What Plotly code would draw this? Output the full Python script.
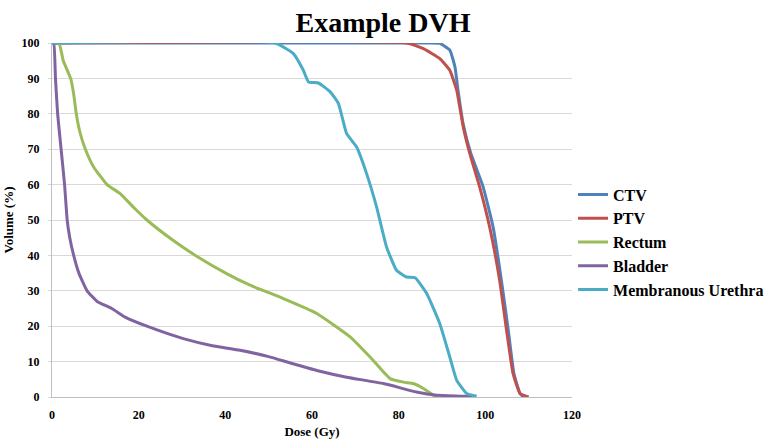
import plotly.graph_objects as go

# ---- data ----
ctv_dose = [0, 85.7, 89.5, 91.8, 93.0, 93.7, 94.9, 96.6, 99.5, 101.8, 103.7, 105.3, 106.6, 108.0, 108.8]
ctv_vol = [100, 100, 99.9, 98, 93.2, 86.6, 77, 69, 59.3, 48, 33, 18.8, 6.6, 1, 0]

ptv_dose = [0, 81.8, 85.7, 89.5, 91.8, 93.4, 94.9, 96.4, 98.7, 101.0, 103.3, 104.9, 106.4, 108.0, 109.5, 110.0]
ptv_vol = [100, 100, 98.4, 95.6, 92.3, 86.6, 76.3, 68.8, 59.3, 48, 33, 18.8, 6.6, 1, 0.2, 0]

rectum_dose = [0, 1.6, 2.6, 4.3, 5.0, 5.6, 6.4, 7.7, 9.6, 12.7, 15.8, 18.8, 21.9, 28.0, 33.1, 40.4,
               45.7, 53.4, 61.1, 68.8, 73.4, 78.0, 81.1, 83.4, 85.7, 88.0, 89.0]
rectum_vol = [100, 100, 95, 90, 85.6, 80, 75, 70, 65, 60, 57.4, 53.6, 50, 44.2, 40, 34.8,
              31.6, 27.8, 23.6, 17, 11.3, 5.2, 4.2, 3.8, 2.4, 0.5, 0]

bladder_dose = [0, 0.4, 0.8, 1.3, 2.1, 2.9, 3.5, 4.1, 5.0, 6.2, 8.1, 10.4, 13.8, 17.0, 21.9, 30.3,
                37.0, 43.4, 50.0, 55.0, 61.1, 68.0, 76.5, 84.1, 88.8, 95.7, 97.0]
bladder_vol = [100, 100, 90, 80, 70, 60, 50, 45, 40, 35, 30, 27, 25, 22.5, 20, 16.5,
               14.5, 13.2, 11.4, 9.6, 7.5, 5.6, 3.8, 1.4, 0.5, 0.2, 0]

urethra_dose = [0, 51.5, 55.7, 58.0, 59.2, 61.5, 64.2, 66.1, 68.0, 70.3, 72.6, 74.9, 77.2, 79.5,
                81.8, 83.8, 86.5, 89.5, 91.8, 93.4, 95.7, 98.0]
urethra_vol = [100, 100, 97, 92.3, 89, 88.7, 86.2, 82.9, 74.4, 70.6, 63.1, 53.7, 42.4, 35.8,
               33.9, 33.7, 29.2, 20.7, 11.3, 4.7, 1, 0.2]

series_names = ["CTV", "PTV", "Rectum", "Bladder", "Membranous Urethra"]
series_x = [ctv_dose, ptv_dose, rectum_dose, bladder_dose, urethra_dose]
series_y = [ctv_vol, ptv_vol, rectum_vol, bladder_vol, urethra_vol]
colors = ["#4F81BD", "#C0504D", "#9BBB59", "#8064A2", "#4BACC6"]

x_ticks = [0, 20, 40, 60, 80, 100, 120]
y_ticks = [0, 10, 20, 30, 40, 50, 60, 70, 80, 90, 100]

FONT = "Liberation Serif"

fig = go.Figure()
for name, xs, ys, c in zip(series_names, series_x, series_y, colors):
    fig.add_trace(go.Scatter(
        x=xs, y=ys, mode="lines", name=f"<b>{name}</b>", legendgroup=name,
        line=dict(color=c, width=3, shape="spline", smoothing=0.4),
    ))

fig.update_layout(
    width=767, height=444,
    paper_bgcolor="white", plot_bgcolor="white",
    margin=dict(l=52, r=195, t=43, b=47, autoexpand=False),
    title=dict(text="<b>Example DVH</b>", x=383 / 767, xref="container", xanchor="center",
               y=1 - 22 / 444, yref="container", yanchor="middle",
               font=dict(family=FONT, size=28, color="black")),
    font=dict(family=FONT, color="black"),
    showlegend=True,
    legend=dict(x=1.002, xanchor="left", y=0.62, yanchor="top",
                traceorder="grouped", tracegroupgap=0, itemwidth=30,
                font=dict(family=FONT, size=16, color="black"),
                bgcolor="rgba(0,0,0,0)"),
)

fig.update_xaxes(
    range=[0, 120], tickvals=x_ticks, ticktext=[f"<b>{v}</b>" for v in x_ticks],
    showgrid=False, zeroline=False, showline=True, linecolor="#BFBFBF", linewidth=1,
    ticks="", automargin=False, ticklabelstandoff=7,
    tickfont=dict(family=FONT, size=12, color="black"),
    title=dict(text="<b>Dose (Gy)</b>", font=dict(family=FONT, size=13, color="black"), standoff=5),
)
fig.update_yaxes(
    range=[0, 100], tickvals=y_ticks, ticktext=[f"<b>{v}</b>" for v in y_ticks],
    showgrid=True, gridcolor="#D9D9D9", gridwidth=1, zeroline=False,
    showline=True, linecolor="#BFBFBF", linewidth=1,
    ticks="outside", ticklen=3, tickcolor="#D9D9D9", automargin=False, ticklabelstandoff=6,
    tickfont=dict(family=FONT, size=12, color="black"),
    title=dict(text="<b>Volume (%)</b>", font=dict(family=FONT, size=13, color="black"), standoff=5),
)

fig.write_html("out.html", post_script="document.body.style.margin='0';",
               config={"displayModeBar": False})
